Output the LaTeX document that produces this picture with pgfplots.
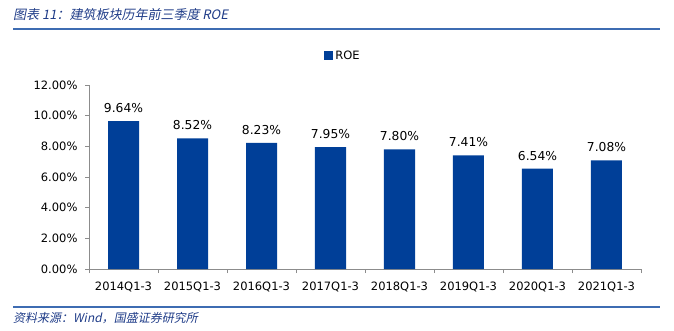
\documentclass[border=0pt]{standalone}
\usepackage{fontspec}
\setmainfont{DejaVu Sans}
\newfontfamily\cjk[FakeSlant=0.2]{Noto Sans CJK SC}
\usepackage{pgfplots}
\pgfplotsset{compat=1.18}
\definecolor{barblue}{HTML}{003F98}
\definecolor{titleblue}{HTML}{1F3C88}
\definecolor{lineblue}{HTML}{3E6CB2}
\definecolor{axgray}{HTML}{8C8C8C}
\begin{document}
\begin{tikzpicture}
\useasboundingbox (0pt,0pt) rectangle (674pt,330pt);
\node[anchor=west, text=titleblue, font=\cjk\fontsize{13}{15}\selectfont, inner sep=0pt] at (13pt,315.5pt) {图表 11：建筑板块历年前三季度 ROE};
\draw[lineblue, line width=2pt] (13pt,300.5pt) -- (660pt,300.5pt);
\draw[lineblue, line width=1.3pt] (13pt,23pt) -- (660pt,23pt);
\node[anchor=west, text=titleblue, font=\cjk\fontsize{12}{14}\selectfont, inner sep=0pt] at (13pt,11.5pt) {资料来源：Wind，国盛证券研究所};
\begin{axis}[
  at={(89pt,61pt)}, anchor=south west,
  scale only axis, width=552pt, height=184pt,
  ybar, bar width=31pt,
  xmin=-0.5, xmax=7.5, ymin=0, ymax=12,
  axis lines*=left,
  axis line style={axgray, line width=0.6pt},
  every tick/.style={axgray, line width=0.6pt},
  tick align=outside,
  xtick={0,...,7},
  xticklabels={2014Q1-3,2015Q1-3,2016Q1-3,2017Q1-3,2018Q1-3,2019Q1-3,2020Q1-3,2021Q1-3},
  major x tick style={draw=none},
  minor xtick={-0.5,0.5,...,7.5},
  minor tick length=4pt,
  ytick={0,2,...,12},
  major tick length=4pt,
  /pgf/number format/assume math mode=true,
  yticklabel={\pgfmathprintnumber[fixed,fixed zerofill,precision=2]{\tick}\%},
  ticklabel style={font=\fontsize{11.5}{13}\selectfont, text=black},
  xticklabel style={yshift=-5pt},
  yticklabel style={xshift=-4pt},
  nodes near coords={\pgfmathprintnumber[fixed,fixed zerofill,precision=2,assume math mode=true]{\pgfplotspointmeta}\%},
  every node near coord/.append style={font=\fontsize{12.3}{14}\selectfont, text=black, yshift=5pt},
  legend style={at={(0.46,1.158)}, anchor=center, draw=none, font=\fontsize{11.5}{13}\selectfont, inner sep=1pt},
  legend image code/.code={\fill[barblue] (0pt,-4.5pt) rectangle (9pt,4.5pt);},
  clip=false,
]
\addplot[fill=barblue, draw=none] coordinates {(0,9.64) (1,8.52) (2,8.23) (3,7.95) (4,7.80) (5,7.41) (6,6.54) (7,7.08)};
\addlegendentry{ROE}
\end{axis}
\end{tikzpicture}
\end{document}
